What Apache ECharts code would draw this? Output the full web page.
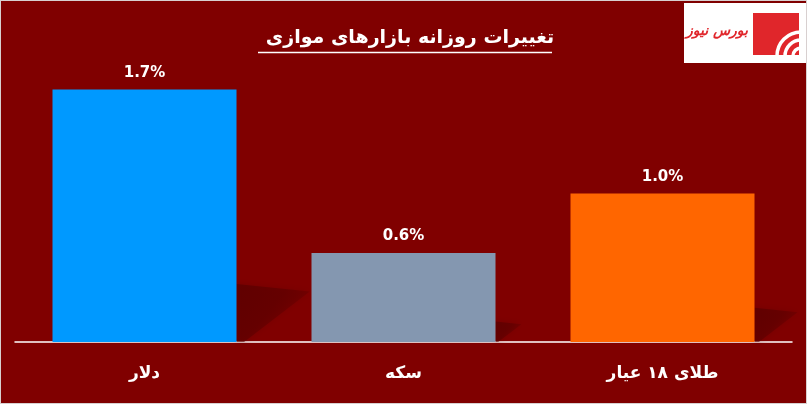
<!DOCTYPE html>
<html><head><meta charset="utf-8">
<script src="https://cdn.jsdelivr.net/npm/echarts@6/dist/echarts.min.js"></script>
<style>html,body{margin:0;padding:0;background:#800000;}#c{width:805px;height:402px;border:1px solid #d8d0d0;}</style>
</head><body><div id="c"></div>
<script>
var categories = ['دلار', 'سکه', 'طلای ۱۸ عیار'];
var values = [1.7, 0.6, 1.0];
var barColors = ['#0099FF', '#8497B0', '#FF6600'];
var titleText = 'تغییرات روزانه بازارهای موازی';
var logoText = 'بورس نیوز';

var chart = echarts.init(document.getElementById('c'));
var FONT = 'DejaVu Sans';
var arcs = [8, 16, 24].map(function (r) {
  return { type: 'arc', z: 10, shape: { cx: 800, cy: 55, r: r, startAngle: Math.PI, endAngle: 1.5 * Math.PI }, style: { stroke: '#fff', lineWidth: 3.5, fill: null } };
});
chart.setOption({
  backgroundColor: '#800000',
  animation: false,
  title: {
    text: titleText, left: 404, textAlign: 'center', top: 23,
    textStyle: { color: '#fff', fontSize: 19, fontWeight: 'bold', fontFamily: FONT }
  },
  graphic: [
    { type: 'line', shape: { x1: 257, y1: 51.5, x2: 551, y2: 51.5 }, style: { stroke: '#fff', lineWidth: 1.5 } },
    { type: 'rect', z: 5, shape: { x: 683, y: 2, width: 122, height: 60 }, style: { fill: '#fff' } },
    { type: 'text', z: 10, style: { x: 747, y: 30, text: logoText, fill: '#E0262B', align: 'right', verticalAlign: 'middle', font: 'italic bold 14px "DejaVu Sans"' } },
    { type: 'rect', z: 6, shape: { x: 752, y: 12, width: 46, height: 42 }, style: { fill: '#E0262B' } }
  ].concat(arcs),
  grid: { left: 14, right: 14, top: 44, bottom: 61 },
  xAxis: {
    type: 'category', data: categories,
    axisLine: { lineStyle: { color: '#fff', width: 1.5 } },
    axisTick: { show: false },
    axisLabel: { color: '#fff', fontSize: 17, fontWeight: 'bold', fontFamily: FONT, margin: 23 }
  },
  yAxis: { type: 'value', min: 0, max: 2, show: false, splitLine: { show: false } },
  series: [
    {
      type: 'custom', z: 1, silent: true,
      data: values.map(function (v, i) { return [i, v]; }),
      encode: { x: 0, y: 1 },
      renderItem: function (params, api) {
        var top = api.coord([api.value(0), api.value(1)]);
        var base = api.coord([api.value(0), 0]);
        var h = base[1] - top[1];
        var right = top[0] + 92;
        var st = base[1] - 0.23 * h;
        var w = 0.29 * h;
        return {
          type: 'polygon',
          shape: { points: [[right, st], [right + w, st + 0.03 * h], [right + 0.03 * h, base[1]], [right, base[1]]] },
          style: {
            fill: new echarts.graphic.LinearGradient(0, 0, 1, 1, [
              { offset: 0, color: 'rgba(90,0,0,0.75)' },
              { offset: 0.45, color: 'rgba(90,0,0,0.6)' },
              { offset: 0.8, color: 'rgba(90,0,0,0.2)' },
              { offset: 1, color: 'rgba(90,0,0,0)' }
            ]),
            shadowBlur: 6, shadowColor: 'rgba(80,0,0,0.4)'
          }
        };
      }
    },
    {
      type: 'bar', z: 2, barWidth: 184,
      data: values.map(function (v, i) { return { value: v, itemStyle: { color: barColors[i] } }; }),
      label: {
        show: true, position: 'top', distance: 9, color: '#fff', fontSize: 15, fontWeight: 'bold', fontFamily: FONT,
        formatter: function (p) { return p.value.toFixed(1) + '%'; }
      }
    }
  ]
});
</script></body></html>
